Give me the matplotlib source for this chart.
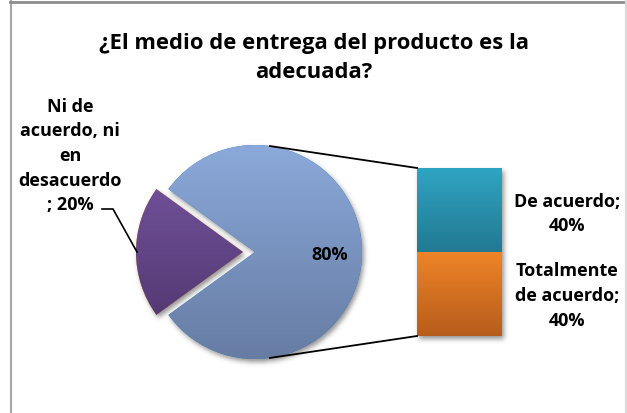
import numpy as np
import matplotlib
matplotlib.use("Agg")
import matplotlib.pyplot as plt
from matplotlib.colors import LinearSegmentedColormap
from matplotlib.lines import Line2D

plt.rcParams["font.family"] = ["Open Sans", "DejaVu Sans"]

TITLE = "¿El medio de entrega del producto es la\nadecuada?"

# pie: rest (split into bar) + neutral answer
pie_values = [80, 20]
pie_text = ["80%", "Ni de\nacuerdo, ni\nen\ndesacuerdo\n; 20%"]

# secondary bar, bottom to top
bar_values = [40, 40]
bar_text = ["Totalmente\nde acuerdo;\n40%", "De acuerdo;\n40%"]

W, H = 627, 414
fig = plt.figure(figsize=(W / 100, H / 100), dpi=100)
ax = fig.add_axes([0, 0, 1, 1])

# pie geometry in pixel units (y up); explode is in the same units
cx, cy, R, EXPL = 255, 161, 107, 12
start = -pie_values[0] / 100 * 360 / 2
wedges, _ = ax.pie(pie_values, radius=R, center=(cx, cy), startangle=start,
                   explode=[0, EXPL], counterclock=True,
                   wedgeprops=dict(linewidth=0))

pie_grad = [("#8ba9da", "#667ca3"), ("#6f4f97", "#543a74")]
bar_grad = [("#ef8428", "#b65c1b"), ("#2fa4c3", "#227992")]

# stacked bar, scaled so the whole bar stands for the 80% slice
bx0, bx1, by0 = 417, 502, 77
scale = 168 / pie_values[0]
bars = []
bottom = by0
for v in bar_values:
    r = ax.bar((bx0 + bx1) / 2, v * scale, width=bx1 - bx0, bottom=bottom,
               linewidth=0)[0]
    bars.append(r)
    bottom += v * scale


def gradient_fill(patch, top, bot):
    path = (patch.get_transform() - ax.transData).transform_path(patch.get_path())
    (x0, y0), (x1, y1) = path.get_extents().get_points()
    cmap = LinearSegmentedColormap.from_list("g", [bot, top])
    im = ax.imshow(np.linspace(0, 1, 256).reshape(-1, 1), cmap=cmap,
                   extent=[x0, x1, y0, y1], origin="lower", aspect="auto",
                   zorder=3, interpolation="bilinear")
    im.set_clip_path(patch)


def soft_shadow(patches, dx=2, dy=-3, sigma=2.5, alpha=0.6):
    yy, xx = np.mgrid[0:H, 0:W] + 0.5
    pts = np.column_stack([xx.ravel() - dx, yy.ravel() - dy])
    mask = np.zeros(H * W)
    for p in patches:
        path = (p.get_transform() - ax.transData).transform_path(p.get_path())
        mask = np.maximum(mask, path.contains_points(pts))
    mask = mask.reshape(H, W)
    k = np.arange(-int(3 * sigma), int(3 * sigma) + 1)
    k = np.exp(-k ** 2 / (2 * sigma ** 2))
    k /= k.sum()
    mask = np.apply_along_axis(lambda r: np.convolve(r, k, mode="same"), 1, mask)
    mask = np.apply_along_axis(lambda c: np.convolve(c, k, mode="same"), 0, mask)
    rgba = np.zeros((H, W, 4))
    rgba[..., :3] = 0.3
    rgba[..., 3] = mask * alpha
    ax.imshow(rgba, extent=[0, W, 0, H], origin="lower", zorder=1,
              interpolation="bilinear")


soft_shadow(list(wedges) + bars)
for w, (t, b) in zip(wedges, pie_grad):
    w.set_zorder(2)
    gradient_fill(w, t, b)
for r, (t, b) in zip(bars, bar_grad):
    r.set_zorder(2)
    gradient_fill(r, t, b)

# connector lines from the pie to the bar
a = np.deg2rad(82)
ax.plot([cx + R * np.cos(a), bx0], [cy + R * np.sin(a), by0 + sum(bar_values) * scale],
        color="black", lw=1.3, zorder=4)
ax.plot([cx + R * np.cos(a), bx0], [cy - R * np.sin(a), by0],
        color="black", lw=1.3, zorder=4)

# leader line for the exploded slice
ax.plot([102, 113, cx - EXPL - R + 1], [204, 204, cy], color="black", lw=1.2, zorder=4)

tk = dict(fontsize=13, fontweight="bold", color="black", ha="center",
          va="center", linespacing=1.48, zorder=5)
ax.text(330, 159, pie_text[0], **tk)
ax.text(70, 258, pie_text[1], **tk)
ax.text(567, 118, bar_text[0], **tk)
ax.text(567, 200, bar_text[1], **tk)

ax.text(314, 356, TITLE, fontsize=15.8, fontweight="bold", ha="center",
        va="center", linespacing=1.5, zorder=5)

ax.set_xlim(0, W)
ax.set_ylim(0, H)
ax.set_aspect("auto")
ax.axis("off")

# chart area border
fig.add_artist(Line2D([10.5 / W, 10.5 / W], [0, 1 - 2 / H], color="#a6a6a6", lw=1.5))
fig.add_artist(Line2D([10 / W, 626 / W], [1 - 2.5 / H, 1 - 2.5 / H], color="#8c8c8c", lw=2))
fig.add_artist(Line2D([625.5 / W, 625.5 / W], [0, 1 - 2 / H], color="#d9d9d9", lw=1.5))

fig.savefig("out.png", dpi=100, facecolor="white")
